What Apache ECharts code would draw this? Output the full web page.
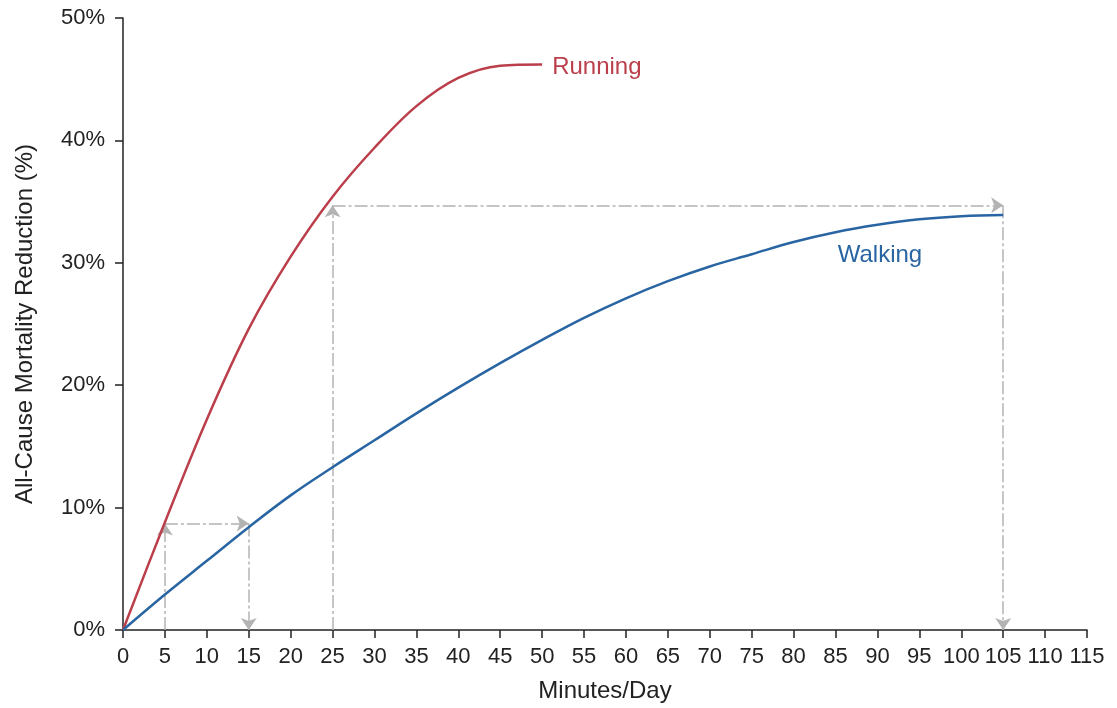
<!DOCTYPE html>
<html>
<head>
<meta charset="utf-8">
<script src="https://cdn.jsdelivr.net/npm/echarts@6/dist/echarts.min.js"></script>
<style>
html,body{margin:0;padding:0;background:#fff;}
#chart{width:1117px;height:708px;}
</style>
</head>
<body>
<div id="chart"></div>
<script>
// Minutes/Day and % mortality reduction
var runMinutes = [0, 5, 10, 15, 20, 25, 30, 35, 40, 45, 50];
var runValues  = [0, 8.8, 17.2, 24.6, 30.5, 35.4, 39.4, 42.8, 45.1, 46.1, 46.2];
var walkMinutes = [0, 5, 10, 15, 20, 25, 30, 35, 40, 45, 50, 55, 60, 65, 70, 75, 80, 85, 90, 95, 100, 105];
var walkValues  = [0, 2.9, 5.65, 8.4, 11.0, 13.3, 15.5, 17.7, 19.8, 21.8, 23.7, 25.5, 27.1, 28.5, 29.7, 30.7, 31.7, 32.5, 33.1, 33.55, 33.8, 33.9];
// Comparison arrows (data coordinates: [minutes, %])
var arrowSegments = [
  [[5, 0], [5, 8.7]],
  [[5, 8.7], [15, 8.7]],
  [[15, 8.7], [15, 0]],
  [[25, 0], [25, 34.7]],
  [[25, 34.7], [105, 34.7]],
  [[105, 34.7], [105, 0]]
];
var xTickLabels = [];
for (var t = 0; t <= 115; t += 5) xTickLabels.push(String(t));
var walkLabelPos = [90.3, 30.6];

var RED = '#bb3f4b', BLUE = '#2865a2', AXIS = '#222', FONT = 'Liberation Sans, Arial, sans-serif';

var chart = echarts.init(document.getElementById('chart'));
chart.setOption({
  animation: false,
  backgroundColor: '#fff',
  grid: {left: 123, right: 30, top: 18, bottom: 77, containLabel: false},
  xAxis: {
    type: 'value', min: 0, max: 115, interval: 5,
    name: 'Minutes/Day', nameLocation: 'middle', nameGap: 49,
    nameTextStyle: {fontFamily: FONT, fontSize: 24, color: '#222'},
    axisLine: {show: true, onZero: false, lineStyle: {color: AXIS, width: 1.5}},
    axisTick: {show: true, length: 8, lineStyle: {color: AXIS, width: 1.5}},
    axisLabel: {margin: 16, fontFamily: FONT, fontSize: 22, color: '#222',
      formatter: function (v) { return xTickLabels[Math.round(v / 5)]; }},
    splitLine: {show: false}
  },
  yAxis: {
    type: 'value', min: 0, max: 50, interval: 10,
    name: 'All-Cause Mortality Reduction (%)', nameLocation: 'middle', nameGap: 86,
    nameTextStyle: {fontFamily: FONT, fontSize: 24, color: '#222'},
    axisLine: {show: true, lineStyle: {color: AXIS, width: 1.5}},
    axisTick: {show: true, length: 8, lineStyle: {color: AXIS, width: 1.5}},
    axisLabel: {margin: 18, fontFamily: FONT, fontSize: 22, color: '#222', formatter: '{value}%'},
    splitLine: {show: false}
  },
  series: [
    {
      type: 'lines', coordinateSystem: 'cartesian2d', z: 1,
      symbol: ['none', 'arrow'], symbolSize: [10, 12],
      lineStyle: {color: '#b3b3b3', width: 1.5, type: [13, 3, 3, 3], opacity: 1},
      itemStyle: {color: '#b3b3b3'},
      data: arrowSegments.map(function (s) { return {coords: s}; })
    },
    {
      name: 'Running', type: 'line', z: 3,
      data: runMinutes.map(function (m, i) { return [m, runValues[i]]; }),
      smooth: 0.35, showSymbol: false, symbol: 'none',
      lineStyle: {color: RED, width: 2.5}, itemStyle: {color: RED},
      endLabel: {show: true, formatter: 'Running', distance: 10, offset: [0, 3], fontFamily: FONT, fontSize: 24, color: RED}
    },
    {
      name: 'Walking', type: 'line', z: 3,
      data: walkMinutes.map(function (m, i) { return [m, walkValues[i]]; }),
      smooth: 0.4, showSymbol: false, symbol: 'none',
      lineStyle: {color: BLUE, width: 2.5}, itemStyle: {color: BLUE},
      markPoint: {
        symbol: 'circle', symbolSize: 0, silent: true,
        label: {show: true, position: 'inside', formatter: 'Walking', fontFamily: FONT, fontSize: 24, color: BLUE},
        data: [{coord: walkLabelPos}]
      }
    }
  ]
});
</script>
</body>
</html>
